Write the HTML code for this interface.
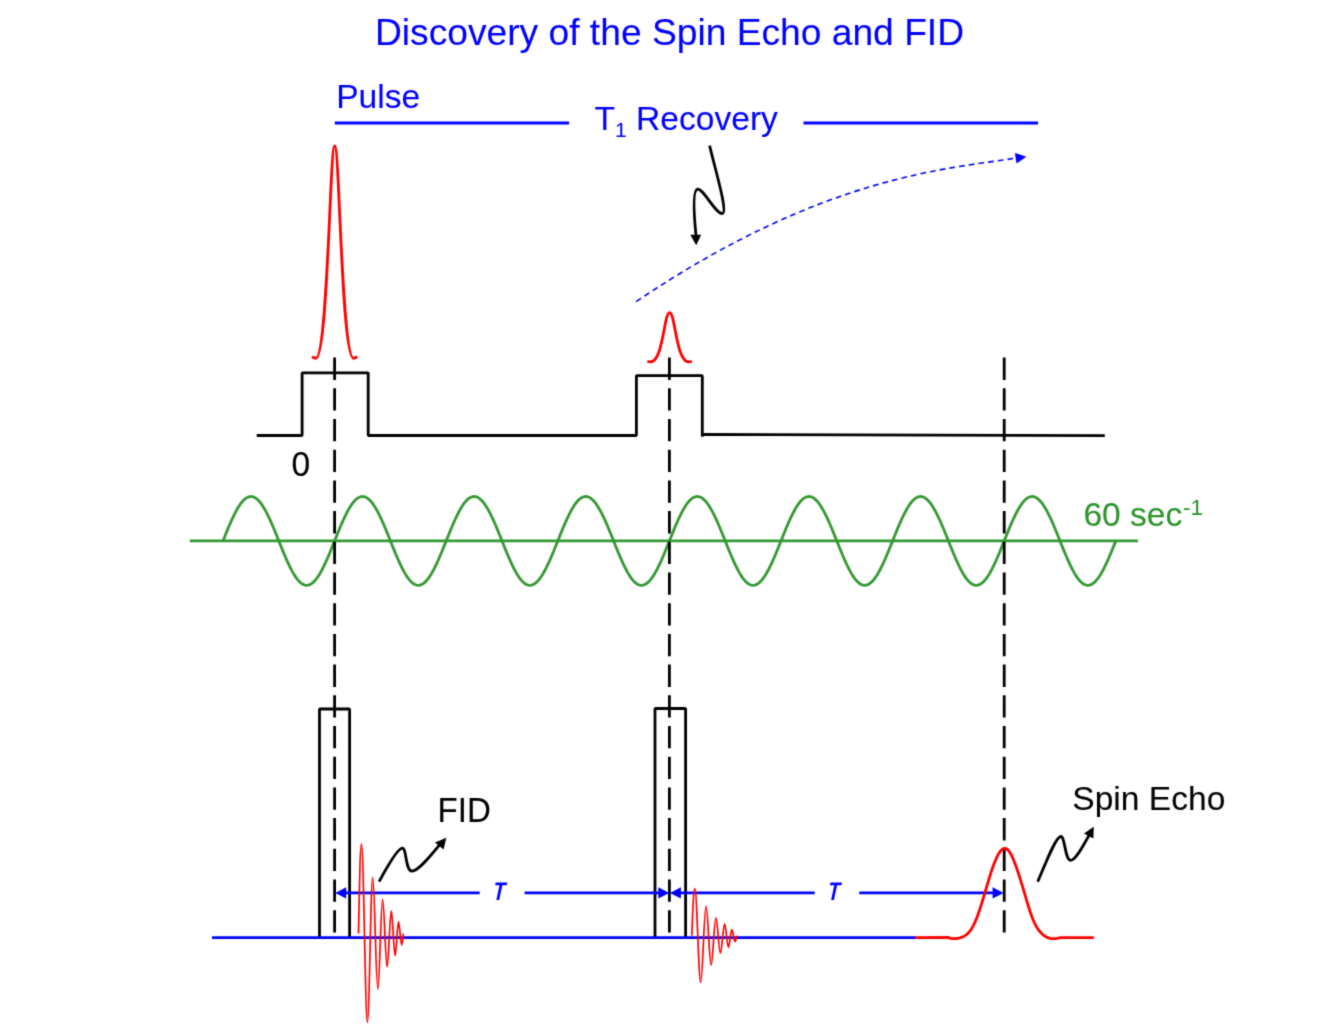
<!DOCTYPE html>
<html lang="en">
<head>
<meta charset="utf-8">
<title>Discovery of the Spin Echo and FID</title>
<style>
html,body{margin:0;padding:0;background:#fff;}
body{width:1339px;height:1024px;overflow:hidden;}
svg{display:block;}
text{font-family:"Liberation Sans",sans-serif;stroke-width:0.1;stroke-linejoin:round;}
.k{fill:none;stroke:#000;stroke-width:2.8;stroke-linejoin:bevel;}
.b{fill:none;stroke:#00f;stroke-width:2.8;}
.r{fill:none;stroke:#f00;stroke-width:2.8;stroke-linejoin:round;}
.g{fill:none;stroke:#393;stroke-width:2.8;stroke-linejoin:round;}
.d{fill:none;stroke:#000;stroke-width:2.8;stroke-dasharray:22.3 8.4;}
.f{fill:none;stroke:#f00;stroke-width:1.7;stroke-linejoin:round;}
.lbl{font-size:33.57px;}
</style>
</head>
<body>
<svg width="1339" height="1024" viewBox="0 0 1339 1024">
<rect width="1339" height="1024" fill="#fff"/>
<defs><filter id="soft" x="0" y="0" width="1339" height="1024" filterUnits="userSpaceOnUse" color-interpolation-filters="sRGB"><feConvolveMatrix order="3" kernelMatrix="0.0225 0.105 0.0225 0.105 0.49 0.105 0.0225 0.105 0.0225" divisor="1" edgeMode="duplicate" preserveAlpha="false"/></filter></defs>
<g filter="url(#soft)"><g transform="translate(0 0.3)">
<text x="669.5" y="44.7" font-size="37.2" fill="#00f" stroke="#00f" text-anchor="middle">Discovery of the Spin Echo and FID</text>
<text class="lbl" x="336.2" y="107.7" fill="#00f" stroke="#00f">Pulse</text>
<text class="lbl" x="594.6" y="129.7" fill="#00f" stroke="#00f">T<tspan font-size="21" dy="7.4">1</tspan><tspan dy="-7.4"> Recovery</tspan></text>
<path class="b" d="M334.8 122.7H569.1M803.5 122.7H1038"/>
<path d="M636.1 301.3 C824.7 174.2 949.4 168.6 1015.6 157.8" fill="none" stroke="#00f" stroke-width="1.6" stroke-dasharray="5.7 4.1"/>
<path d="M1026.4 156.4L1014.9 152.6L1016.5 163.3Z" fill="#00f"/>
<path class="k" d="M709.6 145.3 C716 172 728 212 722.5 213.2 C716 214.5 703 187.5 697.5 188.8 C692 190 694.5 220 696 235" stroke-linecap="butt"/>
<path d="M696.2 245L690.3 234.4L701.2 234.4Z" fill="#000"/>
<path class="r" d="M312.2 356.2 C313.8 357.55 314.15 358 315.75 358 C328.02 358 329.76 145.5 334.7 145.5 C339.64 145.5 341.38 358 353.65 358 C355.25 358 355.6 357.55 357.2 356.2"/>
<path class="r" d="M647.3 361.1 C648.65 361.48 648.95 361.6 650.3 361.6 C663.3 361.6 663.94 312.3 669.6 312.3 C675.26 312.3 675.9 361.6 688.9 361.6 C690.25 361.6 690.55 361.48 691.9 361.1"/>
<path class="k" d="M256.7 435.2H302.1V372.5H368.2V435.2H636.4V375.4H702.3V436.5"/>
<path class="k" d="M702.3 434.2L1104.8 435.3"/>
<text class="lbl" transform="translate(291.6 475.7) scale(1 1.04)" fill="#000" stroke="#000">0</text>
<path class="g" d="M189.8 540.6H1138"/>
<path class="g" d="M223 540.6 L224.49 536.88 L225.98 533.2 L227.46 529.56 L228.95 526 L230.44 522.54 L231.93 519.21 L233.42 516.03 L234.9 513.02 L236.39 510.21 L237.88 507.6 L239.37 505.23 L240.86 503.11 L242.34 501.25 L243.83 499.67 L245.32 498.37 L246.81 497.37 L248.3 496.68 L249.78 496.29 L251.27 496.21 L252.76 496.44 L254.25 496.99 L255.74 497.84 L257.22 498.98 L258.71 500.43 L260.2 502.15 L261.69 504.14 L263.18 506.39 L264.66 508.88 L266.15 511.59 L267.64 514.5 L269.13 517.6 L270.62 520.86 L272.1 524.26 L273.59 527.77 L275.08 531.37 L276.57 535.04 L278.06 538.74 L279.54 542.46 L281.03 546.16 L282.52 549.83 L284.01 553.43 L285.5 556.94 L286.98 560.34 L288.47 563.6 L289.96 566.7 L291.45 569.61 L292.94 572.32 L294.42 574.81 L295.91 577.06 L297.4 579.05 L298.89 580.77 L300.38 582.22 L301.86 583.36 L303.35 584.21 L304.84 584.76 L306.33 584.99 L307.82 584.91 L309.3 584.52 L310.79 583.83 L312.28 582.83 L313.77 581.53 L315.26 579.95 L316.74 578.09 L318.23 575.97 L319.72 573.6 L321.21 570.99 L322.7 568.18 L324.18 565.17 L325.67 561.99 L327.16 558.66 L328.65 555.2 L330.14 551.64 L331.62 548 L333.11 544.32 L334.6 540.6 L336.09 536.88 L337.58 533.2 L339.06 529.56 L340.55 526 L342.04 522.54 L343.53 519.21 L345.02 516.03 L346.5 513.02 L347.99 510.21 L349.48 507.6 L350.97 505.23 L352.46 503.11 L353.94 501.25 L355.43 499.67 L356.92 498.37 L358.41 497.37 L359.9 496.68 L361.38 496.29 L362.87 496.21 L364.36 496.44 L365.85 496.99 L367.34 497.84 L368.82 498.98 L370.31 500.43 L371.8 502.15 L373.29 504.14 L374.78 506.39 L376.26 508.88 L377.75 511.59 L379.24 514.5 L380.73 517.6 L382.22 520.86 L383.7 524.26 L385.19 527.77 L386.68 531.37 L388.17 535.04 L389.66 538.74 L391.14 542.46 L392.63 546.16 L394.12 549.83 L395.61 553.43 L397.1 556.94 L398.58 560.34 L400.07 563.6 L401.56 566.7 L403.05 569.61 L404.54 572.32 L406.02 574.81 L407.51 577.06 L409 579.05 L410.49 580.77 L411.98 582.22 L413.46 583.36 L414.95 584.21 L416.44 584.76 L417.93 584.99 L419.42 584.91 L420.9 584.52 L422.39 583.83 L423.88 582.83 L425.37 581.53 L426.86 579.95 L428.34 578.09 L429.83 575.97 L431.32 573.6 L432.81 570.99 L434.3 568.18 L435.78 565.17 L437.27 561.99 L438.76 558.66 L440.25 555.2 L441.74 551.64 L443.22 548 L444.71 544.32 L446.2 540.6 L447.69 536.88 L449.18 533.2 L450.66 529.56 L452.15 526 L453.64 522.54 L455.13 519.21 L456.62 516.03 L458.1 513.02 L459.59 510.21 L461.08 507.6 L462.57 505.23 L464.06 503.11 L465.54 501.25 L467.03 499.67 L468.52 498.37 L470.01 497.37 L471.5 496.68 L472.98 496.29 L474.47 496.21 L475.96 496.44 L477.45 496.99 L478.94 497.84 L480.42 498.98 L481.91 500.43 L483.4 502.15 L484.89 504.14 L486.38 506.39 L487.86 508.88 L489.35 511.59 L490.84 514.5 L492.33 517.6 L493.82 520.86 L495.3 524.26 L496.79 527.77 L498.28 531.37 L499.77 535.04 L501.26 538.74 L502.74 542.46 L504.23 546.16 L505.72 549.83 L507.21 553.43 L508.7 556.94 L510.18 560.34 L511.67 563.6 L513.16 566.7 L514.65 569.61 L516.14 572.32 L517.62 574.81 L519.11 577.06 L520.6 579.05 L522.09 580.77 L523.58 582.22 L525.06 583.36 L526.55 584.21 L528.04 584.76 L529.53 584.99 L531.02 584.91 L532.5 584.52 L533.99 583.83 L535.48 582.83 L536.97 581.53 L538.46 579.95 L539.94 578.09 L541.43 575.97 L542.92 573.6 L544.41 570.99 L545.9 568.18 L547.38 565.17 L548.87 561.99 L550.36 558.66 L551.85 555.2 L553.34 551.64 L554.82 548 L556.31 544.32 L557.8 540.6 L559.29 536.88 L560.78 533.2 L562.26 529.56 L563.75 526 L565.24 522.54 L566.73 519.21 L568.22 516.03 L569.7 513.02 L571.19 510.21 L572.68 507.6 L574.17 505.23 L575.66 503.11 L577.14 501.25 L578.63 499.67 L580.12 498.37 L581.61 497.37 L583.1 496.68 L584.58 496.29 L586.07 496.21 L587.56 496.44 L589.05 496.99 L590.54 497.84 L592.02 498.98 L593.51 500.43 L595 502.15 L596.49 504.14 L597.98 506.39 L599.46 508.88 L600.95 511.59 L602.44 514.5 L603.93 517.6 L605.42 520.86 L606.9 524.26 L608.39 527.77 L609.88 531.37 L611.37 535.04 L612.86 538.74 L614.34 542.46 L615.83 546.16 L617.32 549.83 L618.81 553.43 L620.3 556.94 L621.78 560.34 L623.27 563.6 L624.76 566.7 L626.25 569.61 L627.74 572.32 L629.22 574.81 L630.71 577.06 L632.2 579.05 L633.69 580.77 L635.18 582.22 L636.66 583.36 L638.15 584.21 L639.64 584.76 L641.13 584.99 L642.62 584.91 L644.1 584.52 L645.59 583.83 L647.08 582.83 L648.57 581.53 L650.06 579.95 L651.54 578.09 L653.03 575.97 L654.52 573.6 L656.01 570.99 L657.5 568.18 L658.98 565.17 L660.47 561.99 L661.96 558.66 L663.45 555.2 L664.94 551.64 L666.42 548 L667.91 544.32 L669.4 540.6 L670.89 536.88 L672.38 533.2 L673.86 529.56 L675.35 526 L676.84 522.54 L678.33 519.21 L679.82 516.03 L681.3 513.02 L682.79 510.21 L684.28 507.6 L685.77 505.23 L687.26 503.11 L688.74 501.25 L690.23 499.67 L691.72 498.37 L693.21 497.37 L694.7 496.68 L696.18 496.29 L697.67 496.21 L699.16 496.44 L700.65 496.99 L702.14 497.84 L703.62 498.98 L705.11 500.43 L706.6 502.15 L708.09 504.14 L709.58 506.39 L711.06 508.88 L712.55 511.59 L714.04 514.5 L715.53 517.6 L717.02 520.86 L718.5 524.26 L719.99 527.77 L721.48 531.37 L722.97 535.04 L724.46 538.74 L725.94 542.46 L727.43 546.16 L728.92 549.83 L730.41 553.43 L731.9 556.94 L733.38 560.34 L734.87 563.6 L736.36 566.7 L737.85 569.61 L739.34 572.32 L740.82 574.81 L742.31 577.06 L743.8 579.05 L745.29 580.77 L746.78 582.22 L748.26 583.36 L749.75 584.21 L751.24 584.76 L752.73 584.99 L754.22 584.91 L755.7 584.52 L757.19 583.83 L758.68 582.83 L760.17 581.53 L761.66 579.95 L763.14 578.09 L764.63 575.97 L766.12 573.6 L767.61 570.99 L769.1 568.18 L770.58 565.17 L772.07 561.99 L773.56 558.66 L775.05 555.2 L776.54 551.64 L778.02 548 L779.51 544.32 L781 540.6 L782.49 536.88 L783.98 533.2 L785.46 529.56 L786.95 526 L788.44 522.54 L789.93 519.21 L791.42 516.03 L792.9 513.02 L794.39 510.21 L795.88 507.6 L797.37 505.23 L798.86 503.11 L800.34 501.25 L801.83 499.67 L803.32 498.37 L804.81 497.37 L806.3 496.68 L807.78 496.29 L809.27 496.21 L810.76 496.44 L812.25 496.99 L813.74 497.84 L815.22 498.98 L816.71 500.43 L818.2 502.15 L819.69 504.14 L821.18 506.39 L822.66 508.88 L824.15 511.59 L825.64 514.5 L827.13 517.6 L828.62 520.86 L830.1 524.26 L831.59 527.77 L833.08 531.37 L834.57 535.04 L836.06 538.74 L837.54 542.46 L839.03 546.16 L840.52 549.83 L842.01 553.43 L843.5 556.94 L844.98 560.34 L846.47 563.6 L847.96 566.7 L849.45 569.61 L850.94 572.32 L852.42 574.81 L853.91 577.06 L855.4 579.05 L856.89 580.77 L858.38 582.22 L859.86 583.36 L861.35 584.21 L862.84 584.76 L864.33 584.99 L865.82 584.91 L867.3 584.52 L868.79 583.83 L870.28 582.83 L871.77 581.53 L873.26 579.95 L874.74 578.09 L876.23 575.97 L877.72 573.6 L879.21 570.99 L880.7 568.18 L882.18 565.17 L883.67 561.99 L885.16 558.66 L886.65 555.2 L888.14 551.64 L889.62 548 L891.11 544.32 L892.6 540.6 L894.09 536.88 L895.58 533.2 L897.06 529.56 L898.55 526 L900.04 522.54 L901.53 519.21 L903.02 516.03 L904.5 513.02 L905.99 510.21 L907.48 507.6 L908.97 505.23 L910.46 503.11 L911.94 501.25 L913.43 499.67 L914.92 498.37 L916.41 497.37 L917.9 496.68 L919.38 496.29 L920.87 496.21 L922.36 496.44 L923.85 496.99 L925.34 497.84 L926.82 498.98 L928.31 500.43 L929.8 502.15 L931.29 504.14 L932.78 506.39 L934.26 508.88 L935.75 511.59 L937.24 514.5 L938.73 517.6 L940.22 520.86 L941.7 524.26 L943.19 527.77 L944.68 531.37 L946.17 535.04 L947.66 538.74 L949.14 542.46 L950.63 546.16 L952.12 549.83 L953.61 553.43 L955.1 556.94 L956.58 560.34 L958.07 563.6 L959.56 566.7 L961.05 569.61 L962.54 572.32 L964.02 574.81 L965.51 577.06 L967 579.05 L968.49 580.77 L969.98 582.22 L971.46 583.36 L972.95 584.21 L974.44 584.76 L975.93 584.99 L977.42 584.91 L978.9 584.52 L980.39 583.83 L981.88 582.83 L983.37 581.53 L984.86 579.95 L986.34 578.09 L987.83 575.97 L989.32 573.6 L990.81 570.99 L992.3 568.18 L993.78 565.17 L995.27 561.99 L996.76 558.66 L998.25 555.2 L999.74 551.64 L1001.22 548 L1002.71 544.32 L1004.2 540.6 L1005.69 536.88 L1007.18 533.2 L1008.66 529.56 L1010.15 526 L1011.64 522.54 L1013.13 519.21 L1014.62 516.03 L1016.1 513.02 L1017.59 510.21 L1019.08 507.6 L1020.57 505.23 L1022.06 503.11 L1023.54 501.25 L1025.03 499.67 L1026.52 498.37 L1028.01 497.37 L1029.5 496.68 L1030.98 496.29 L1032.47 496.21 L1033.96 496.44 L1035.45 496.99 L1036.94 497.84 L1038.42 498.98 L1039.91 500.43 L1041.4 502.15 L1042.89 504.14 L1044.38 506.39 L1045.86 508.88 L1047.35 511.59 L1048.84 514.5 L1050.33 517.6 L1051.82 520.86 L1053.3 524.26 L1054.79 527.77 L1056.28 531.37 L1057.77 535.04 L1059.26 538.74 L1060.74 542.46 L1062.23 546.16 L1063.72 549.83 L1065.21 553.43 L1066.7 556.94 L1068.18 560.34 L1069.67 563.6 L1071.16 566.7 L1072.65 569.61 L1074.14 572.32 L1075.62 574.81 L1077.11 577.06 L1078.6 579.05 L1080.09 580.77 L1081.58 582.22 L1083.06 583.36 L1084.55 584.21 L1086.04 584.76 L1087.53 584.99 L1089.02 584.91 L1090.5 584.52 L1091.99 583.83 L1093.48 582.83 L1094.97 581.53 L1096.46 579.95 L1097.94 578.09 L1099.43 575.97 L1100.92 573.6 L1102.41 570.99 L1103.9 568.18 L1105.38 565.17 L1106.87 561.99 L1108.36 558.66 L1109.85 555.2 L1111.34 551.64 L1112.82 548 L1114.31 544.32 L1115.8 540.6"/>
<text class="lbl" x="1083.4" y="525.7" fill="#2c932c" stroke="#2c932c">60 sec<tspan font-size="22.4" dx="0.7" dy="-11">-1</tspan></text>
<path class="k" d="M319.5 937.4V708.7H349.6V937.4M655 937.4V708.2H685.6V937.4"/>
<path class="b" d="M212 937.4H916"/>
<path class="d" d="M334.6 357.3V938M669.4 357.3V938M1004.2 357.3V938"/>
<path class="b" d="M344 892.6H479.7M524.6 892.6H660M679 892.6H814.7M859.2 892.6H995"/>
<path fill="#00f" d="M335.2 892.6L346.2 886.9V898.3ZM669.3 892.6L658.3 886.9V898.3ZM669.9 892.6L680.9 886.9V898.3ZM1003.6 892.6L992.6 886.9V898.3Z"/>
<text transform="translate(497.7 899.7) skewX(-12) scale(0.77 1)" text-anchor="middle" font-size="25.6" font-weight="bold" fill="#00f">T</text>
<text transform="translate(832.5 899.7) skewX(-12) scale(0.77 1)" text-anchor="middle" font-size="25.6" font-weight="bold" fill="#00f">T</text>
<path class="f" d="M358.5 933.3 C359.58 882.28 360.15 843.8 361.5 843.8 C363.65 843.8 365.25 1022.1 367.4 1022.1 C369.33 1022.1 370.77 877.3 372.7 877.3 C374.56 877.3 375.94 989.1 377.8 989.1 C379.55 989.1 380.85 899.1 382.6 899.1 C384.24 899.1 385.46 966.7 387.1 966.7 C388.63 966.7 389.77 910.5 391.3 910.5 C392.68 910.5 393.72 955.4 395.1 955.4 C396.34 955.4 397.26 921.6 398.5 921.6 C399.67 921.6 400.53 944.6 401.7 944.6 C402.46 944.6 402.79 939.74 403.4 933.3"/>
<path class="f" d="M691.8 935.4 C692.88 908.62 693.45 888.41 694.8 888.41 C696.95 888.41 698.55 982.02 700.7 982.02 C702.63 982.02 704.07 906 706 906 C707.86 906 709.24 964.69 711.1 964.69 C712.85 964.69 714.15 917.44 715.9 917.44 C717.54 917.44 718.76 952.93 720.4 952.93 C721.93 952.93 723.07 923.43 724.6 923.43 C725.98 923.43 727.02 947 728.4 947 C729.64 947 730.56 929.26 731.8 929.26 C732.97 929.26 733.83 941.33 735 941.33 C735.76 941.33 736.09 938.78 736.7 935.4"/>
<path class="r" d="M915 937.3L948.6 937.22 L949.3 937.54 L950 937.8 L950.7 938.01 L951.4 938.16 L952.1 938.27 L952.8 938.33 L953.5 938.37 L954.2 938.37 L954.9 938.34 L955.6 938.29 L956.3 938.21 L957 938.12 L957.7 938 L958.4 937.87 L959.1 937.71 L959.8 937.54 L960.5 937.34 L961.2 937.12 L961.9 936.87 L962.6 936.59 L963.3 936.28 L964 935.94 L964.7 935.55 L965.4 935.11 L966.1 934.62 L966.8 934.07 L967.5 933.45 L968.2 932.76 L968.9 932 L969.6 931.15 L970.3 930.22 L971 929.21 L971.7 928.11 L972.4 926.92 L973.1 925.64 L973.8 924.27 L974.5 922.81 L975.2 921.26 L975.9 919.62 L976.6 917.9 L977.3 916.09 L978 914.2 L978.7 912.24 L979.4 910.21 L980.1 908.11 L980.8 905.94 L981.5 903.73 L982.2 901.47 L982.9 899.16 L983.6 896.83 L984.3 894.46 L985 892.09 L985.7 889.7 L986.4 887.32 L987.1 884.95 L987.8 882.59 L988.5 880.27 L989.2 877.97 L989.9 875.71 L990.6 873.5 L991.3 871.35 L992 869.25 L992.7 867.22 L993.4 865.27 L994.1 863.39 L994.8 861.59 L995.5 859.89 L996.2 858.28 L996.9 856.77 L997.6 855.37 L998.3 854.07 L999 852.9 L999.7 851.84 L1000.4 850.9 L1001.1 850.09 L1001.8 849.42 L1002.5 848.88 L1003.2 848.48 L1003.9 848.22 L1004.6 848.11 L1005.3 848.15 L1006 848.35 L1006.7 848.69 L1007.4 849.19 L1008.1 849.84 L1008.8 850.64 L1009.5 851.59 L1010.2 852.68 L1010.9 853.9 L1011.6 855.26 L1012.3 856.73 L1013 858.31 L1013.7 860 L1014.4 861.77 L1015.1 863.62 L1015.8 865.53 L1016.5 867.51 L1017.2 869.54 L1017.9 871.61 L1018.6 873.72 L1019.3 875.87 L1020 878.06 L1020.7 880.27 L1021.4 882.52 L1022.1 884.79 L1022.8 887.1 L1023.5 889.44 L1024.2 891.81 L1024.9 894.19 L1025.6 896.59 L1026.3 898.98 L1027 901.36 L1027.7 903.72 L1028.4 906.02 L1029.1 908.27 L1029.8 910.45 L1030.5 912.54 L1031.2 914.53 L1031.9 916.43 L1032.6 918.23 L1033.3 919.92 L1034 921.51 L1034.7 922.99 L1035.4 924.38 L1036.1 925.67 L1036.8 926.88 L1037.5 928 L1038.2 929.05 L1038.9 930.02 L1039.6 930.92 L1040.3 931.75 L1041 932.52 L1041.7 933.24 L1042.4 933.89 L1043.1 934.49 L1043.8 935.04 L1044.5 935.54 L1045.2 936 L1045.9 936.41 L1046.6 936.77 L1047.3 937.1 L1048 937.38 L1048.7 937.63 L1049.4 937.83 L1050.1 938 L1050.8 938.14 L1051.5 938.24 L1052.2 938.31 L1052.9 938.35 L1053.6 938.36 L1054.3 938.34 L1055 938.3 L1055.7 938.24 L1056.4 938.15 L1057.1 938.04 L1057.8 937.92 L1058.5 937.78 L1059.2 937.62 L1059.9 937.45 L1060.6 937.27H1093.8"/>
<path class="k" d="M379.1 881.3 C389 863 398.6 848 402.4 847.9 C406.6 848 405.4 870 411.6 870.8 C418 871.5 430 856 440 844"/>
<path d="M446.3 837.4L435 842.1L443.6 849.1Z" fill="#000"/>
<text class="lbl" transform="translate(437.5 821.7) scale(0.985 1.04)" fill="#000" stroke="#000">FID</text>
<path class="k" d="M1037.7 881.5 C1046 862 1056 836 1060.9 836.2 C1065 836.5 1065 859 1070.3 860 C1075 860.5 1083 846 1089 835"/>
<path d="M1093.75 826.4L1084 833.2L1093.4 838.1Z" fill="#000"/>
<text class="lbl" x="1072.3" y="809.7" fill="#000" stroke="#000">Spin Echo</text>
</g></g>
</svg>
</body>
</html>
